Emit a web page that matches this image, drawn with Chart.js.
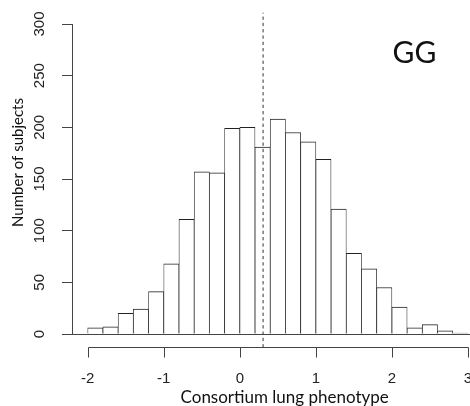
<!DOCTYPE html>
<html lang="en">
  <head>
    <meta charset="UTF-8" />
    <title>Consortium lung phenotype - GG</title>
    <script src="https://cdn.jsdelivr.net/npm/chart.js"></script>
    <style>
      html, body {
        margin: 0;
        padding: 0;
        background: #ffffff;
        overflow: hidden;
      }
      #histChart {
        display: block;
      }
    </style>
  </head>
  <body>
    <canvas id="histChart" width="500" height="406"></canvas>

    <script>
      // histogram bins (left edge of each bin) and counts
      const binLeft = [-2.0, -1.8, -1.6, -1.4, -1.2, -1.0, -0.8, -0.6, -0.4, -0.2, 0.0, 0.2, 0.4,
                       0.6, 0.8, 1.0, 1.2, 1.4, 1.6, 1.8, 2.0, 2.2, 2.4, 2.6, 2.8];
      const counts = [6, 7, 20, 24, 41, 68, 111, 157, 156, 199, 200, 181, 208,
                      195, 186, 169, 121, 78, 63, 45, 26, 6, 9, 3, 1];
      const binWidth = 0.2;

      const xTicks = [-2, -1, 0, 1, 2, 3];
      const yTicks = [0, 50, 100, 150, 200, 250, 300];

      // dashed reference line
      const meanValue = 0.306;
      const meanLineSpan = [-13, 311];

      const groupLabel = "GG";
      const xTitle = "Consortium lung phenotype";
      const yTitle = "Number of subjects";

      const axisColor = "#444";

      // R style detached x axis + free text
      const extras = {
        id: "extras",
        afterDraw(chart) {
          const { ctx, chartArea } = chart;
          const x = chart.scales.x;
          const axisY = Math.round(chartArea.bottom + 13) + 0.5;
          ctx.save();
          ctx.strokeStyle = axisColor;
          ctx.lineWidth = 1;
          ctx.beginPath();
          const x0 = Math.round(x.getPixelForValue(xTicks[0])) + 0.5;
          const x1 = Math.round(x.getPixelForValue(xTicks[xTicks.length - 1])) + 0.5;
          ctx.moveTo(x0, axisY);
          ctx.lineTo(x1, axisY);
          xTicks.forEach((v) => {
            const px = Math.round(x.getPixelForValue(v)) + 0.5;
            ctx.moveTo(px, axisY);
            ctx.lineTo(px, axisY + 10);
          });
          ctx.stroke();

          ctx.fillStyle = "#111";
          ctx.textAlign = "center";
          ctx.textBaseline = "middle";

          ctx.font = "30px Lato";
          ctx.fillText(groupLabel, 414.5, 53.5);

          ctx.translate(18.5, 162.5);
          ctx.rotate(-Math.PI / 2);
          ctx.font = "15px Lato";
          ctx.fillText(yTitle, 0, 0);
          ctx.restore();
        },
      };

      const ctx = document.getElementById("histChart").getContext("2d");
      const histChart = new Chart(ctx, {
        type: "bar",
        data: {
          datasets: [
            {
              type: "line",
              data: meanLineSpan.map((y) => ({ x: meanValue, y: y })),
              borderColor: "#333",
              borderWidth: 1,
              borderDash: [3.3, 3],
              pointRadius: 0,
              clip: false,
              order: 0,
            },
            {
              type: "bar",
              data: binLeft.map((b, i) => ({ x: b + binWidth / 2, y: counts[i] })),
              backgroundColor: "#ffffff",
              borderColor: "#222",
              borderWidth: { top: 1, left: 0.75, right: 0.75, bottom: 0 },
              barPercentage: 1,
              categoryPercentage: 1,
              order: 1,
            },
          ],
        },
        options: {
          responsive: false,
          animation: false,
          events: [],
          layout: { padding: { top: 24, right: 2.6, left: 0, bottom: 0 } },
          plugins: {
            legend: { display: false },
            tooltip: { enabled: false },
          },
          scales: {
            x: {
              type: "linear",
              offset: false,
              min: -2.2066,
              max: 3.387,
              afterBuildTicks: (s) => {
                s.ticks = xTicks.map((v) => ({ value: v }));
              },
              afterFit: (s) => {
                s.height = 72;
              },
              // invisible tick marks only push the labels down below the detached axis
              grid: {
                display: true,
                drawOnChartArea: false,
                drawTicks: true,
                tickLength: 36,
                color: "rgba(0,0,0,0)",
                offset: false,
              },
              border: { display: true, color: axisColor, width: 1 },
              ticks: {
                autoSkip: false,
                maxRotation: 0,
                padding: 0,
                color: "#222",
                font: { family: "Liberation Sans", size: 15 },
              },
              title: {
                display: true,
                text: xTitle,
                color: "#111",
                padding: { top: 0, bottom: 0 },
                font: { family: "Lato", size: 17, lineHeight: 1 },
              },
            },
            y: {
              min: 0,
              max: 300,
              afterBuildTicks: (s) => {
                s.ticks = yTicks.map((v) => ({ value: v }));
              },
              afterFit: (s) => {
                s.width = 72;
              },
              grid: { drawOnChartArea: false, drawTicks: true, tickLength: 10, color: axisColor },
              border: { display: true, color: axisColor, width: 1 },
              ticks: {
                minRotation: 90,
                maxRotation: 90,
                crossAlign: "center",
                padding: 9.5,
                color: "#222",
                font: { family: "Liberation Sans", size: 15 },
              },
            },
          },
        },
        plugins: [extras],
      });
    </script>
  </body>
</html>
